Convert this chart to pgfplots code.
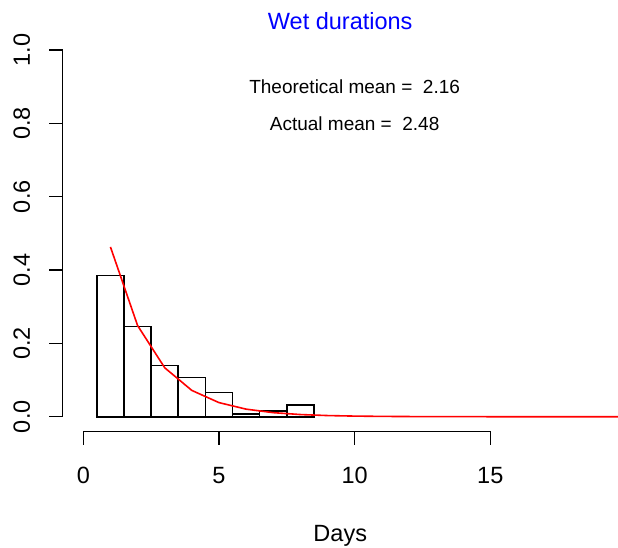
\documentclass[border=0pt]{standalone}
\usepackage{fontspec}
\setmainfont{Liberation Sans}
\usepackage{pgfplots}
\pgfplotsset{compat=1.18}

\begin{document}
\begin{tikzpicture}
\begin{axis}[
  name=ax,
  scale only axis,
  width=555.1bp, height=396.1bp,
  xmin=-0.76, xmax=19.7, ymin=-0.04, ymax=1.04,
  axis lines*=left,
  axis line style={draw=none},
  clip mode=individual,
  xtick={0,5,10,15},
  ytick={0,0.2,0.4,0.6,0.8,1},
  yticklabels={0.0,0.2,0.4,0.6,0.8,1.0},
  tick align=outside,
  major tick length=13.4bp,
  tick style={draw=black, line width=1.5bp},
  tick label style={font=\fontsize{23.5bp}{28bp}\selectfont},
  /pgf/number format/assume math mode=true,
  xticklabel style={anchor=base, yshift=-38.2bp},
  yticklabel style={xshift=-19.3bp, rotate=90, anchor=base},
]
% histogram of observed wet-spell lengths (relative frequencies)
\addplot[ybar interval, draw=black, fill=white, line width=1.6bp]
  coordinates {(0.5,0.38525) (1.5,0.24590) (2.5,0.13934) (3.5,0.10656)
               (4.5,0.06557) (5.5,0.00820) (6.5,0.01639) (7.5,0.03279)
               (8.5,0)};
% fitted geometric distribution
\addplot[red, line width=1.6bp, mark=none]
  coordinates {(1,0.46296) (2,0.24863) (3,0.13352) (4,0.07171) (5,0.03851)
               (6,0.02068) (7,0.01111) (8,0.00596) (9,0.00320) (10,0.00172)
               (11,0.00092) (12,0.00050) (13,0.00027) (14,0.00014)
               (15,0.000077) (16,0.000041) (17,0.000022) (18,0.000012)
               (19,0.0000064) (20,0.0000034)};
% detached axis lines
\draw[line width=1.5bp] (axis cs:0,-0.04) -- (axis cs:15,-0.04);
\draw[line width=1.5bp] (axis cs:-0.76,0) -- (axis cs:-0.76,1);
% annotations
\node[font=\fontsize{19bp}{23bp}\selectfont] at (axis cs:10,0.9)
  {Theoretical mean =\ \ 2.16};
\node[font=\fontsize{19bp}{23bp}\selectfont] at (axis cs:10,0.8)
  {Actual mean =\ \ 2.48};
\node[anchor=base, text=blue, font=\fontsize{23.5bp}{28bp}\selectfont,
      yshift=6bp] at (rel axis cs:0.5,1) {Wet durations};
\node[anchor=base, font=\fontsize{23.5bp}{28bp}\selectfont,
      yshift=-110.3bp] at (rel axis cs:0.5,0) {Days};
\end{axis}
\pgfresetboundingbox
\path[use as bounding box] ([xshift=-62.7bp, yshift=-116.6bp]ax.south west)
  rectangle ([xshift=0.2bp, yshift=35.3bp]ax.north east);
\end{tikzpicture}
\end{document}
